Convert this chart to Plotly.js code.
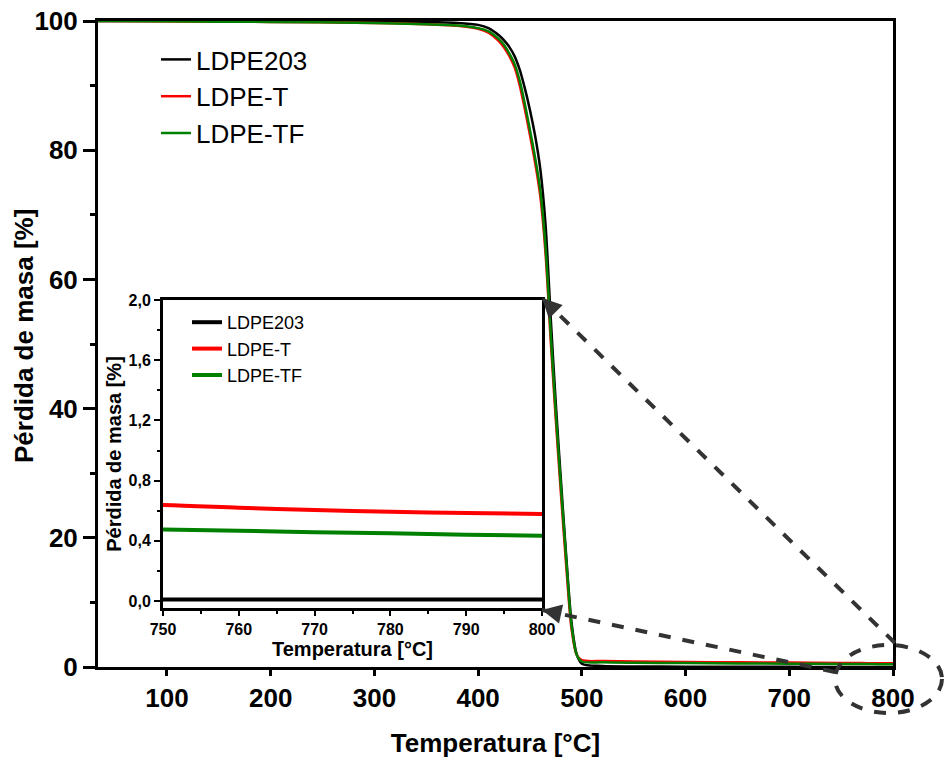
<!DOCTYPE html>
<html>
<head>
<meta charset="utf-8">
<script src="https://cdn.plot.ly/plotly-3.0.1.min.js"></script>
<style>html,body{margin:0;padding:0;background:#fff;}#chart{width:945px;height:762px;}</style>
</head>
<body>
<div id="chart"></div>
<script>
// Temperature grid (°C) and mass curves (%)
const temperatura = [33, 100, 200, 300, 350, 380, 400, 410, 420, 425, 430, 435, 440, 445, 450, 455, 460, 465, 470, 475, 480, 485, 490, 495, 500, 520, 550, 600, 650, 700, 750, 760, 770, 780, 790, 800];
const ldpe203 = [100, 100, 100, 99.95, 99.85, 99.7, 99.4, 98.9, 97.8, 97.0, 96.0, 94.6, 92.5, 89.6, 86.2, 82.2, 77.0, 68.5, 54.0, 40.5, 28.5, 17.0, 7.0, 2.0, 0.5, 0.15, 0.08, 0.05, 0.03, 0.02, 0.01, 0.01, 0.01, 0.01, 0.01, 0.01];
const ldpeT = [100, 99.95, 99.85, 99.7, 99.5, 99.25, 98.8, 98.2, 96.9, 95.9, 94.6, 92.9, 90.1, 86.4, 82.3, 78.0, 72.8, 64.0, 50.5, 38.0, 26.5, 15.5, 6.0, 1.9, 1.05, 0.92, 0.85, 0.78, 0.72, 0.68, 0.638, 0.62, 0.605, 0.593, 0.585, 0.578];
const ldpeTF = [100, 99.95, 99.85, 99.7, 99.5, 99.3, 98.9, 98.4, 97.2, 96.3, 95.0, 93.4, 90.8, 87.2, 83.1, 78.8, 73.7, 65.0, 51.5, 39.0, 27.5, 16.5, 6.5, 1.9, 0.85, 0.72, 0.66, 0.6, 0.55, 0.51, 0.476, 0.467, 0.458, 0.45, 0.44, 0.434];

const names = ['LDPE203', 'LDPE-T', 'LDPE-TF'];
const colors = ['#000000', '#ff0000', '#008000'];
const series = [ldpe203, ldpeT, ldpeTF];

const mainX = [100, 200, 300, 400, 500, 600, 700, 800];
const mainY = [0, 20, 40, 60, 80, 100];
const insetX = [750, 760, 770, 780, 790, 800];
const insetY = [0.0, 0.4, 0.8, 1.2, 1.6, 2.0];

const FONT = 'Arial, "Liberation Sans", sans-serif';

const traces = [];
series.forEach((s, i) => {
  traces.push({
    x: temperatura, y: s, name: names[i], type: 'scatter', mode: 'lines',
    line: {color: colors[i], width: 2.5, shape: 'spline', smoothing: 0.8},
    xaxis: 'x', yaxis: 'y', legend: 'legend'
  });
});
series.forEach((s, i) => {
  traces.push({
    x: temperatura, y: s, name: names[i], type: 'scatter', mode: 'lines',
    line: {color: colors[i], width: 4, shape: 'spline', smoothing: 0.8},
    xaxis: 'x2', yaxis: 'y2', legend: 'legend2'
  });
});

// pixel -> paper helpers for the plot area (l=98, r=893, t=21, b=667)
const L = 98, R = 893, T = 21, B = 667;
const px = v => (v - L) / (R - L);
const py = v => (B - v) / (B - T);

const dashCol = '#333333';

const layout = {
  width: 945, height: 762,
  margin: {l: L, r: 945 - R, t: T, b: 762 - B},
  paper_bgcolor: '#ffffff', plot_bgcolor: '#ffffff',
  separators: ',.',
  font: {family: FONT, color: '#000'},
  showlegend: true,
  xaxis: {
    domain: [0, 1], range: [33.5, 800], tickvals: mainX, ticks: 'outside', ticklen: 6, tickwidth: 3,
    tickcolor: '#000', showline: true, linewidth: 3, linecolor: '#000', mirror: true,
    showgrid: false, zeroline: false, anchor: 'y',
    tickfont: {family: FONT, size: 26, weight: 'bold', color: '#000'},
    title: {text: 'Temperatura [°C]', font: {family: FONT, size: 26, weight: 'bold', color: '#000'}, standoff: 22}
  },
  xaxis3: {
    overlaying: 'x', anchor: 'y', range: [33.5, 800], tick0: 0, dtick: 200, ticks: 'outside', ticklen: 11, tickwidth: 3,
    tickcolor: '#000', showticklabels: false, showline: false, showgrid: false, zeroline: false
  },
  yaxis: {
    domain: [0, 1], range: [0, 100], tickvals: mainY, ticks: 'outside', ticklen: 12, tickwidth: 3,
    tickcolor: '#000', showline: true, linewidth: 3, linecolor: '#000', mirror: true,
    showgrid: false, zeroline: false, anchor: 'x',
    minor: {dtick: 10, ticks: 'outside', ticklen: 5, tickwidth: 3, tickcolor: '#000', showgrid: false},
    tickfont: {family: FONT, size: 26, weight: 'bold', color: '#000'}
  },
  xaxis2: {
    domain: [px(163), px(542)], range: [750, 800], tickvals: insetX, ticks: 'outside', ticklen: 5, tickwidth: 2,
    tickcolor: '#000', showline: true, linewidth: 3, linecolor: '#000', mirror: true,
    showgrid: false, zeroline: false, anchor: 'y2',
    minor: {dtick: 5, ticks: 'outside', ticklen: 3, tickwidth: 2, tickcolor: '#000', showgrid: false},
    tickfont: {family: FONT, size: 16, weight: 'bold', color: '#000'},
    title: {text: 'Temperatura [°C]', font: {family: FONT, size: 20, weight: 'bold', color: '#000'}, standoff: 4}
  },
  yaxis2: {
    domain: [py(608), py(300)], range: [-0.046, 2.0], tickvals: insetY, tickformat: '.1f', ticks: 'outside', ticklen: 6, tickwidth: 2,
    tickcolor: '#000', showline: true, linewidth: 3, linecolor: '#000', mirror: true,
    showgrid: false, zeroline: false, anchor: 'x2',
    minor: {dtick: 0.2, ticks: 'outside', ticklen: 3, tickwidth: 2, tickcolor: '#000', showgrid: false},
    tickfont: {family: FONT, size: 16, weight: 'bold', color: '#000'},
    title: {text: 'Pérdida de masa [%]', font: {family: FONT, size: 20, weight: 'bold', color: '#000'}, standoff: 2}
  },
  legend: {
    x: px(156), y: py(36), xanchor: 'left', yanchor: 'top', bgcolor: 'rgba(0,0,0,0)', borderwidth: 0,
    font: {family: FONT, size: 26, color: '#000'}, itemwidth: 30, tracegroupgap: 0
  },
  legend2: {
    x: px(187), y: py(304), xanchor: 'left', yanchor: 'top', bgcolor: 'rgba(0,0,0,0)', borderwidth: 0,
    font: {family: FONT, size: 18, color: '#000'}, itemwidth: 30, tracegroupgap: 0
  },
  shapes: [
    {type: 'line', xref: 'paper', yref: 'paper', x0: px(895), y0: py(643), x1: px(542), y1: py(298),
     line: {color: dashCol, width: 4, dash: 'dash'}},
    {type: 'line', xref: 'paper', yref: 'paper', x0: px(835), y0: py(672), x1: px(542), y1: py(610),
     line: {color: dashCol, width: 4, dash: 'dash'}},
    {type: 'circle', xref: 'paper', yref: 'paper', x0: px(835), x1: px(942), y0: py(713), y1: py(645),
     line: {color: dashCol, width: 4, dash: 'dash'}}
  ],
  annotations: [
    {xref: 'paper', yref: 'paper', x: px(24), y: py(336), text: 'Pérdida de masa [%]', textangle: -90,
     showarrow: false, xanchor: 'center', yanchor: 'middle',
     font: {family: FONT, size: 26, weight: 'bold', color: '#000'}},
    {xref: 'paper', yref: 'paper', x: px(542), y: py(298), ax: 14, ay: 14, text: '', showarrow: true,
     arrowhead: 2, arrowsize: 1.3, arrowwidth: 3, arrowcolor: dashCol},
    {xref: 'paper', yref: 'paper', x: px(542), y: py(610), ax: 19, ay: 4, text: '', showarrow: true,
     arrowhead: 2, arrowsize: 1.3, arrowwidth: 3, arrowcolor: dashCol}
  ]
};

Plotly.newPlot('chart', traces, layout, {staticPlot: true, displayModeBar: false});
</script>
</body>
</html>
